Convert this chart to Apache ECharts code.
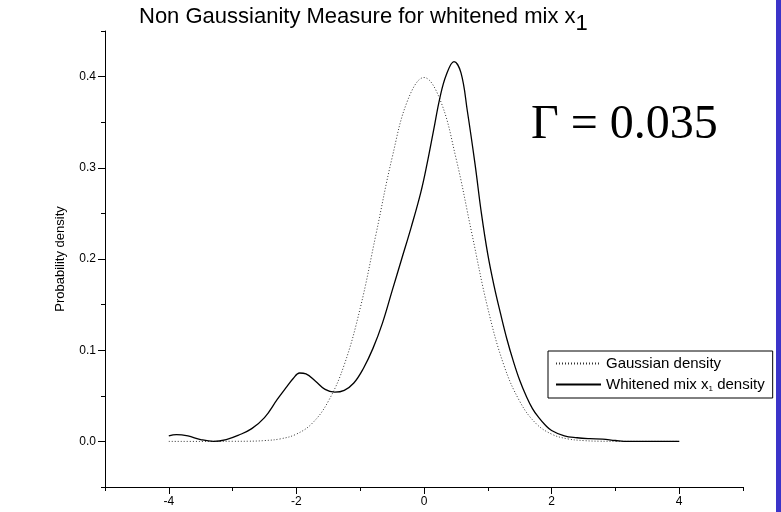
<!DOCTYPE html>
<html><head><meta charset="utf-8">
<script src="https://cdn.jsdelivr.net/npm/echarts@6/dist/echarts.min.js"></script>
<style>html,body{margin:0;padding:0;background:#fff}#c{width:781px;height:512px}</style>
</head><body><div id="c"></div>
<script>
// ---- data ----
const gaussX = [-4,-3.5,-3,-2.75,-2.5,-2.25,-2,-1.75,-1.5,-1.25,-1,-0.75,-0.5,-0.25,0,0.25,0.5,0.75,1,1.25,1.5,1.75,2,2.25,2.5,2.75,3,3.5,4];
const gaussY = [0,0,0.0001,0.0002,0.0009,0.0028,0.008,0.02,0.044,0.084,0.146,0.228,0.311,0.375,0.399,0.375,0.311,0.228,0.146,0.084,0.044,0.02,0.008,0.0028,0.0009,0.0002,0.0001,0,0];
const mixX = [-4.0,-3.88,-3.7,-3.5,-3.3,-3.1,-2.9,-2.7,-2.5,-2.3,-2.15,-2.05,-1.95,-1.85,-1.7,-1.55,-1.4,-1.25,-1.1,-0.95,-0.8,-0.65,-0.5,-0.35,-0.2,-0.05,0.05,0.15,0.25,0.35,0.47,0.58,0.68,0.8,0.9,1.0,1.1,1.2,1.3,1.4,1.5,1.6,1.7,1.8,1.9,2.0,2.2,2.4,2.6,2.8,3.0,3.2,4.0];
const mixY = [0.006,0.0075,0.006,0.002,0.0,0.002,0.007,0.014,0.026,0.046,0.06,0.069,0.075,0.074,0.066,0.057,0.054,0.056,0.064,0.08,0.102,0.13,0.165,0.2,0.235,0.273,0.305,0.341,0.377,0.402,0.4165,0.404,0.362,0.304,0.25,0.205,0.17,0.14,0.112,0.088,0.067,0.05,0.036,0.026,0.018,0.012,0.006,0.004,0.003,0.0025,0.001,0,0];
const xLabelTicks = [-4,-2,0,2,4];
const xMinorTicks = [-5,-3,-1,1,3,5];
const yLabelTicks = [0,0.1,0.2,0.3,0.4];
const yMinorTicks = [-0.05,0.05,0.15,0.25,0.35,0.45];
const seriesNames = ['Gaussian density','Whitened mix x1 density'];
const titleText = 'Non Gaussianity Measure for whitened mix x';
const titleSub = '1';
const yName = 'Probability density';
const gammaText = 'Γ = 0.035';

const FF = '"Liberation Sans", Arial, sans-serif';
const chart = echarts.init(document.getElementById('c'));
const minorAxisBase = {type:'value', axisLine:{show:false, onZero:false}, axisLabel:{show:false}, splitLine:{show:false}};
chart.setOption({
  animation:false,
  backgroundColor:'#fff',
  title:{
    left:139, top:6, padding:0,
    text:'{a|'+titleText+'}{s|'+titleSub+'}',
    textStyle:{fontWeight:'normal', rich:{
      a:{fontSize:22, fontFamily:FF, fontWeight:'normal', color:'#000', verticalAlign:'top', lineHeight:25},
      s:{fontSize:22, fontFamily:FF, fontWeight:'normal', color:'#000', verticalAlign:'top', lineHeight:25, padding:[7,0,0,0]}
    }}
  },
  grid:{left:105, right:38, top:31, bottom:25, containLabel:false},
  legend:{
    orient:'vertical', left:548, top:351, padding:[5,8,5,7],
    itemWidth:45, itemHeight:15, itemGap:6,
    borderColor:'#000', borderWidth:1, borderRadius:0,
    data:seriesNames,
    itemStyle:{opacity:0},
    textStyle:{fontSize:15, color:'#000', fontFamily:FF,
      rich:{s:{fontSize:8, fontFamily:FF, color:'#000', padding:[9,0,0,0]}}},
    formatter:function(n){ return n===seriesNames[1] ? 'Whitened mix x{s|1} density' : n; }
  },
  xAxis:[
    {type:'value', min:-5, max:5, position:'bottom',
     axisLine:{onZero:false, lineStyle:{color:'#000', width:1}},
     axisTick:{customValues:xLabelTicks, length:7, lineStyle:{color:'#000'}},
     axisLabel:{customValues:xLabelTicks, margin:9, fontSize:12, color:'#000', fontFamily:FF},
     splitLine:{show:false}},
    Object.assign({}, minorAxisBase, {min:-5, max:5, position:'bottom',
     axisTick:{customValues:xMinorTicks, length:4, lineStyle:{color:'#000'}}})
  ],
  yAxis:[
    {type:'value', min:-0.05, max:0.45, position:'left',
     name:yName, nameLocation:'middle', nameGap:38, nameRotate:90,
     nameTextStyle:{fontSize:13, color:'#000', fontFamily:FF},
     axisLine:{onZero:false, lineStyle:{color:'#000', width:1}},
     axisTick:{customValues:yLabelTicks, length:7, lineStyle:{color:'#000'}},
     axisLabel:{customValues:yLabelTicks, margin:9, fontSize:12, color:'#000', fontFamily:FF,
       formatter:function(v){return v.toFixed(1);}},
     splitLine:{show:false}},
    Object.assign({}, minorAxisBase, {min:-0.05, max:0.45, position:'left',
     axisTick:{customValues:yMinorTicks, length:4, lineStyle:{color:'#000'}}})
  ],
  series:[
    {type:'line', name:seriesNames[0], xAxisIndex:0, yAxisIndex:0, symbol:'none', smooth:0.4,
     data:gaussX.map(function(x,i){return [x,gaussY[i]];}),
     lineStyle:{color:'#333', width:1, type:[1,2]}, itemStyle:{color:'#333'}},
    {type:'line', name:seriesNames[1], xAxisIndex:0, yAxisIndex:0, symbol:'none', smooth:0.4,
     data:mixX.map(function(x,i){return [x,mixY[i]];}),
     lineStyle:{color:'#000', width:1.3}, itemStyle:{color:'#000'}}
  ],
  graphic:[
    {type:'text', x:531, y:125, style:{text:gammaText, font:'48px "Liberation Serif", "Times New Roman", serif', fill:'#000', align:'left', verticalAlign:'middle'}},
    {type:'rect', shape:{x:776, y:0, width:5, height:512}, style:{fill:'#3b34c9'}}
  ]
});
</script></body></html>
